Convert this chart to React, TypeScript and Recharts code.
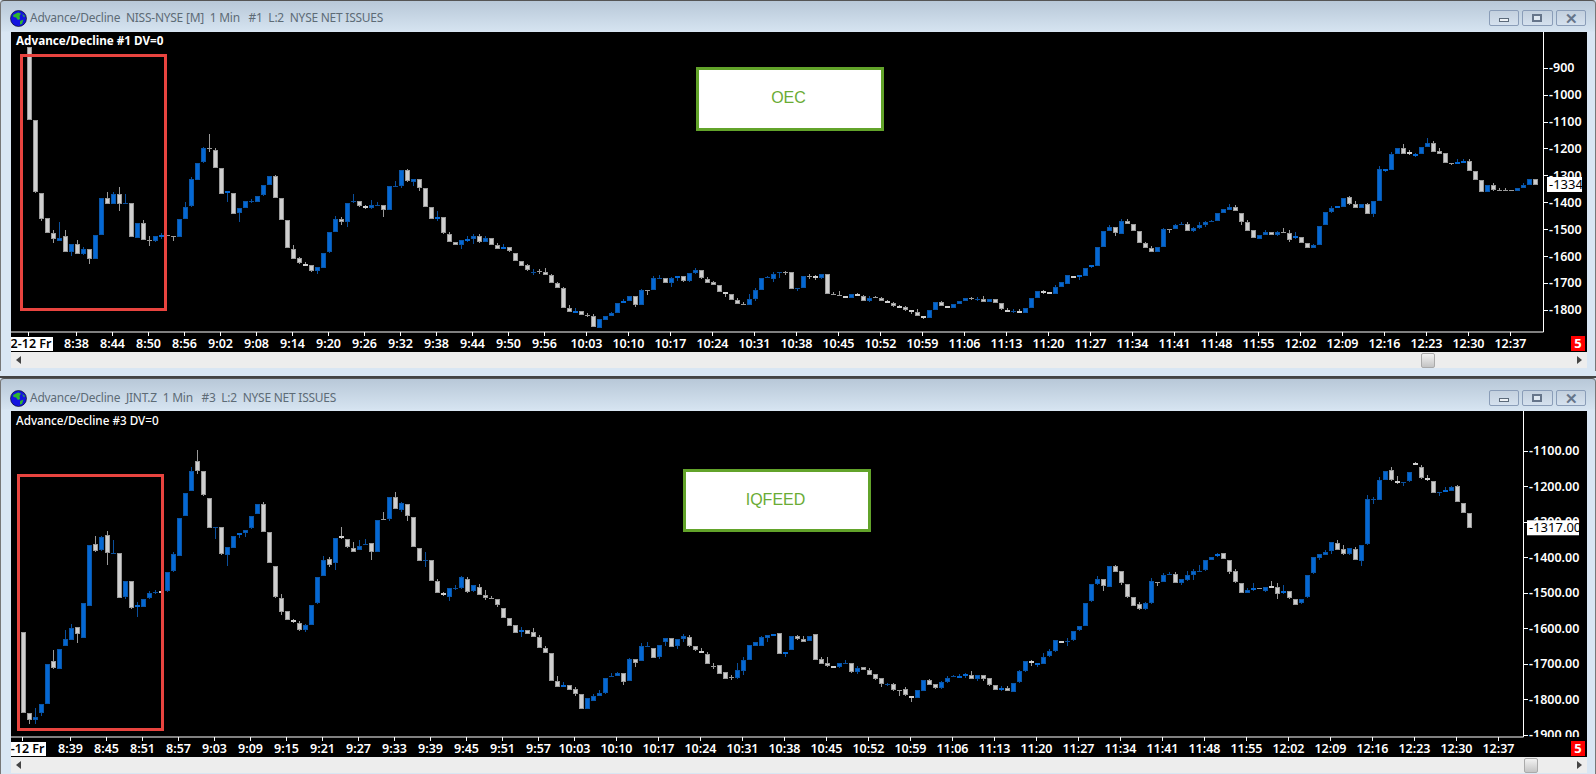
import React from 'react';
import { ComposedChart, Bar, XAxis, YAxis } from 'recharts';

const topOpen = [
-823,-1095,-1364,-1459,-1514,-1542,-1525,-1585,-1554,-1593,
-1573,-1612,-1523,-1385,-1408,-1370,-1405,-1404,-1530,-1476,
-1540,-1544,-1530,-1522,-1525,-1530,-1462,-1416,-1315,-1253,
-1200,-1204,-1272,-1367,-1364,-1441,-1422,-1399,-1397,-1375,
-1337,-1304,-1385,-1466,-1573,-1609,-1628,-1635,-1658,-1642,
-1587,-1511,-1462,-1475,-1401,-1397,-1415,-1424,-1412,-1411,
-1429,-1342,-1342,-1281,-1323,-1312,-1346,-1418,-1464,-1456,
-1517,-1547,-1559,-1542,-1535,-1525,-1547,-1533,-1558,-1573,
-1566,-1587,-1618,-1635,
-1660,-1657,-1661,-1670,-1700,-1719,-1794,-1809,-1805,-1818,
-1824,-1865,-1839,-1824,-1813,-1775,-1769,-1750,-1784,-1726,
-1728,-1683,-1682,-1702,-1684,-1675,-1695,-1665,-1653,-1684,
-1697,-1708,-1735,-1741,-1763,-1779,-1783,-1760,-1728,-1683,
-1683,-1663,-1661,-1660,-1724,-1720,-1676,-1675,-1684,-1668,
-1740,-1745,-1749,-1757,-1741,-1749,-1768,-1753,-1756,-1767,
-1774,-1784,-1790,-1801,-1809,-1823,-1831,-1801,-1771,-1785,
-1794,-1778,-1768,-1756,-1762,-1760,-1772,-1760,-1775,-1800,
-1806,-1804,-1812,-1794,-1757,-1730,-1734,-1739,
-1716,-1704,-1673,-1679,-1675,-1644,-1638,-1567,-1507,-1491,
-1515,-1469,-1480,-1506,-1552,-1571,-1586,-1567,-1498,-1500,
-1483,-1481,-1507,-1496,-1485,-1474,-1470,-1441,-1426,-1417,
-1439,-1472,-1503,-1534,-1522,-1512,-1522,-1510,-1514,-1535,
-1529,-1551,-1568,-1560,-1486,-1437,-1422,-1416,-1382,-1406,
-1422,-1405,-1442,-1396,-1281,-1278,-1221,-1197,-1215,-1226,
-1221,-1195,-1178,-1208,-1216,-1253,-1255,-1251,-1246,-1283,
-1317,-1360,-1335,-1353,-1354,-1356,-1360,-1348,-1337,-1313];

const topClose = [
-1095,-1364,-1462,-1515,-1537,-1532,-1585,-1554,-1593,-1573,
-1612,-1521,-1385,-1408,-1369,-1408,-1403,-1530,-1476,-1540,
-1541,-1527,-1521,-1525,-1530,-1462,-1416,-1315,-1253,-1200,
-1204,-1271,-1367,-1360,-1441,-1422,-1396,-1395,-1375,-1337,
-1304,-1385,-1466,-1569,-1609,-1629,-1635,-1658,-1642,-1587,
-1511,-1462,-1475,-1404,-1396,-1416,-1424,-1412,-1410,-1429,
-1341,-1340,-1281,-1323,-1313,-1346,-1418,-1464,-1456,-1517,
-1547,-1559,-1540,-1535,-1525,-1547,-1533,-1558,-1573,-1565,
-1581,-1618,-1636,-1654,
-1658,-1659,-1672,-1701,-1719,-1794,-1809,-1803,-1820,-1821,
-1865,-1833,-1823,-1811,-1774,-1767,-1749,-1783,-1727,-1728,
-1682,-1681,-1702,-1682,-1675,-1695,-1664,-1653,-1684,-1700,
-1709,-1735,-1741,-1765,-1779,-1783,-1760,-1727,-1682,-1678,
-1665,-1661,-1662,-1724,-1719,-1675,-1677,-1684,-1668,-1742,
-1745,-1750,-1757,-1741,-1750,-1768,-1756,-1755,-1768,-1776,
-1787,-1790,-1801,-1809,-1823,-1831,-1801,-1772,-1785,-1794,
-1778,-1768,-1757,-1759,-1760,-1772,-1760,-1775,-1798,-1807,
-1804,-1812,-1794,-1756,-1730,-1738,-1740,-1714,
-1696,-1672,-1682,-1671,-1644,-1635,-1566,-1506,-1491,-1515,
-1468,-1482,-1507,-1552,-1571,-1586,-1566,-1499,-1500,-1484,
-1481,-1507,-1495,-1484,-1473,-1469,-1439,-1425,-1416,-1433,
-1474,-1504,-1534,-1520,-1512,-1522,-1510,-1514,-1540,-1527,
-1552,-1568,-1558,-1488,-1436,-1421,-1413,-1384,-1408,-1422,
-1406,-1441,-1395,-1276,-1275,-1220,-1198,-1218,-1221,-1220,
-1194,-1179,-1210,-1218,-1255,-1255,-1249,-1245,-1285,-1318,
-1363,-1335,-1354,-1356,-1358,-1359,-1347,-1335,-1313,-1334];

const topHigh = [
-823,-1095,-1364,-1459,-1503,-1475,-1502,-1554,-1542,-1566,
-1573,-1521,-1385,-1362,-1362,-1344,-1370,-1404,-1476,-1466,
-1527,-1527,-1514,-1520,-1525,-1462,-1399,-1307,-1253,-1193,
-1148,-1197,-1272,-1360,-1364,-1422,-1396,-1388,-1375,-1337,
-1304,-1297,-1385,-1466,-1558,-1602,-1623,-1635,-1642,-1587,
-1511,-1451,-1454,-1404,-1368,-1397,-1410,-1391,-1399,-1411,
-1341,-1321,-1279,-1275,-1313,-1312,-1346,-1418,-1433,-1456,
-1511,-1547,-1540,-1527,-1517,-1519,-1527,-1533,-1552,-1554,
-1566,-1587,-1618,-1628,
-1647,-1649,-1644,-1665,-1696,-1714,-1782,-1793,-1805,-1811,
-1817,-1833,-1823,-1807,-1774,-1760,-1749,-1750,-1722,-1726,
-1674,-1670,-1682,-1678,-1675,-1675,-1664,-1644,-1653,-1678,
-1692,-1708,-1735,-1741,-1756,-1772,-1741,-1719,-1682,-1676,
-1659,-1661,-1655,-1660,-1719,-1675,-1668,-1670,-1668,-1668,
-1734,-1730,-1749,-1741,-1737,-1745,-1747,-1747,-1751,-1763,
-1771,-1781,-1785,-1801,-1796,-1823,-1801,-1772,-1766,-1785,
-1778,-1768,-1757,-1751,-1753,-1747,-1760,-1760,-1775,-1795,
-1796,-1796,-1794,-1756,-1730,-1725,-1734,-1707,
-1696,-1672,-1673,-1671,-1644,-1635,-1566,-1506,-1486,-1491,
-1462,-1462,-1480,-1506,-1546,-1561,-1566,-1494,-1498,-1480,
-1474,-1473,-1493,-1474,-1468,-1465,-1439,-1425,-1408,-1412,
-1439,-1466,-1503,-1520,-1503,-1512,-1508,-1495,-1503,-1509,
-1529,-1551,-1555,-1488,-1436,-1414,-1413,-1384,-1378,-1397,
-1406,-1401,-1395,-1265,-1275,-1213,-1198,-1182,-1205,-1218,
-1194,-1162,-1174,-1198,-1216,-1253,-1241,-1241,-1239,-1283,
-1317,-1335,-1329,-1346,-1346,-1353,-1347,-1328,-1313,-1313];

const topLow = [
-1095,-1364,-1468,-1515,-1552,-1545,-1585,-1600,-1593,-1595,
-1630,-1612,-1523,-1408,-1408,-1432,-1405,-1530,-1530,-1540,
-1564,-1549,-1536,-1525,-1545,-1530,-1462,-1416,-1315,-1253,
-1214,-1271,-1367,-1399,-1445,-1472,-1422,-1402,-1397,-1375,
-1337,-1385,-1466,-1569,-1609,-1629,-1635,-1658,-1667,-1646,
-1587,-1511,-1483,-1491,-1401,-1416,-1427,-1424,-1412,-1454,
-1429,-1342,-1346,-1323,-1340,-1358,-1418,-1464,-1469,-1517,
-1547,-1559,-1574,-1547,-1554,-1552,-1547,-1558,-1573,-1573,
-1585,-1618,-1636,-1654,
-1670,-1668,-1672,-1701,-1719,-1794,-1809,-1809,-1820,-1827,
-1865,-1865,-1839,-1824,-1813,-1775,-1769,-1791,-1783,-1744,
-1728,-1683,-1702,-1714,-1692,-1695,-1697,-1665,-1684,-1702,
-1709,-1735,-1751,-1765,-1779,-1783,-1783,-1768,-1728,-1683,
-1695,-1680,-1669,-1724,-1729,-1720,-1687,-1689,-1684,-1742,
-1745,-1750,-1757,-1757,-1750,-1768,-1772,-1757,-1768,-1776,
-1790,-1795,-1805,-1817,-1823,-1836,-1831,-1801,-1785,-1794,
-1794,-1778,-1768,-1762,-1766,-1772,-1772,-1775,-1801,-1807,
-1812,-1812,-1812,-1794,-1757,-1741,-1740,-1739,
-1716,-1704,-1682,-1691,-1675,-1644,-1638,-1567,-1507,-1526,
-1515,-1482,-1507,-1552,-1571,-1586,-1586,-1567,-1515,-1500,
-1486,-1507,-1512,-1498,-1493,-1474,-1470,-1441,-1426,-1433,
-1483,-1504,-1534,-1534,-1522,-1522,-1527,-1514,-1548,-1535,
-1552,-1568,-1568,-1560,-1486,-1441,-1422,-1418,-1412,-1422,
-1422,-1441,-1455,-1396,-1286,-1278,-1221,-1218,-1225,-1233,
-1221,-1195,-1210,-1218,-1255,-1262,-1255,-1251,-1285,-1318,
-1363,-1360,-1360,-1356,-1358,-1359,-1360,-1348,-1337,-1334];

const botOpen = [
-1612,-1838,-1857,-1838,-1812,-1693,-1714,-1649,-1631,-1596,
-1627,-1536,-1364,-1382,-1337,-1391,-1389,-1512,-1468,-1542,
-1539,-1517,-1499,-1496,-1497,-1441,-1396,-1283,-1213,-1129,
-1158,-1232,-1318,-1316,-1393,-1373,-1340,-1331,-1320,-1279,
-1249,-1330,-1426,-1516,-1552,-1578,-1586,-1607,-1592,-1531,
-1454,-1406,-1418,-1341,-1350,-1373,-1379,-1363,-1361,-1385,
-1291,-1292,-1229,-1265,-1249,-1288,-1373,-1410,-1409,-1468,
-1502,-1511,-1488,-1489,-1460,-1497,-1483,-1506,-1516,-1517,
-1544,-1570,-1590,-1613,-1606,-1611,-1625,-1656,-1670,-1749,
-1766,-1760,-1772,-1786,-1829,-1804,-1792,-1784,-1736,-1736,
-1727,-1750,-1687,-1693,-1652,-1656,-1682,-1640,-1628,-1652,
-1631,-1625,-1651,-1664,-1673,-1706,-1704,-1724,-1738,-1742,
-1722,-1688,-1649,-1649,-1629,-1621,-1614,-1674,-1662,-1623,
-1629,-1635,-1617,-1687,-1699,-1706,-1711,-1699,-1699,-1725,
-1710,-1718,-1730,-1741,-1760,-1758,-1775,-1772,-1791,-1798,
-1776,-1746,-1758,-1770,-1753,-1737,-1741,-1737,-1732,-1744,
-1732,-1741,-1760,-1776,-1769,-1778,-1753,-1722,-1693,-1704,
-1702,-1680,-1666,-1635,-1639,-1635,-1607,-1595,-1525,-1477,
-1462,-1484,-1425,-1440,-1476,-1511,-1533,-1546,-1531,-1469,
-1470,-1448,-1446,-1472,-1466,-1452,-1440,-1438,-1407,-1398,
-1389,-1409,-1440,-1472,-1501,-1494,-1488,-1493,-1480,-1485,
-1503,-1496,-1517,-1531,-1514,-1446,-1402,-1393,-1384,-1361,
-1378,-1391,-1377,-1409,-1365,-1240,-1237,-1182,-1155,-1184,
-1193,-1187,-1135,-1147,-1178,-1185,-1219,-1216,-1213,-1200,
-1246,-1276];

const botClose = [
-1840,-1859,-1849,-1814,-1700,-1714,-1659,-1629,-1598,-1615,
-1528,-1365,-1385,-1344,-1387,-1389,-1515,-1468,-1545,-1536,
-1517,-1502,-1497,-1503,-1443,-1392,-1290,-1218,-1156,-1158,
-1227,-1316,-1316,-1393,-1370,-1339,-1333,-1322,-1285,-1250,
-1327,-1416,-1514,-1556,-1578,-1584,-1607,-1592,-1536,-1457,
-1409,-1422,-1347,-1348,-1373,-1383,-1367,-1362,-1386,-1295,
-1293,-1229,-1262,-1246,-1283,-1372,-1409,-1408,-1468,-1502,
-1508,-1486,-1486,-1457,-1497,-1479,-1506,-1515,-1517,-1534,
-1572,-1592,-1613,-1606,-1616,-1626,-1657,-1671,-1750,-1767,
-1760,-1773,-1787,-1829,-1797,-1791,-1783,-1741,-1735,-1727,
-1753,-1687,-1697,-1651,-1651,-1683,-1648,-1628,-1652,-1631,
-1622,-1649,-1663,-1671,-1700,-1707,-1730,-1744,-1739,-1719,
-1690,-1646,-1638,-1625,-1620,-1615,-1674,-1668,-1623,-1632,
-1638,-1621,-1690,-1700,-1708,-1711,-1699,-1698,-1725,-1713,
-1719,-1732,-1745,-1759,-1758,-1776,-1777,-1790,-1798,-1775,
-1746,-1759,-1770,-1752,-1741,-1736,-1734,-1730,-1744,-1732,
-1742,-1761,-1773,-1769,-1778,-1753,-1721,-1693,-1700,-1698,
-1682,-1665,-1634,-1642,-1637,-1609,-1595,-1530,-1476,-1462,
-1483,-1426,-1441,-1475,-1514,-1536,-1548,-1530,-1468,-1471,
-1451,-1446,-1471,-1462,-1451,-1440,-1439,-1409,-1398,-1391,
-1405,-1442,-1472,-1500,-1493,-1488,-1490,-1483,-1485,-1505,
-1496,-1517,-1534,-1519,-1451,-1400,-1391,-1385,-1358,-1380,
-1393,-1375,-1407,-1365,-1237,-1236,-1182,-1158,-1184,-1190,
-1189,-1161,-1141,-1179,-1185,-1218,-1215,-1211,-1203,-1244,
-1275,-1317];

const botHigh = [
-1612,-1838,-1825,-1814,-1700,-1662,-1659,-1606,-1589,-1596,
-1528,-1365,-1339,-1340,-1327,-1352,-1389,-1466,-1468,-1526,
-1517,-1494,-1491,-1496,-1443,-1384,-1290,-1218,-1146,-1099,
-1158,-1232,-1316,-1316,-1370,-1339,-1333,-1322,-1285,-1250,
-1243,-1330,-1426,-1505,-1552,-1573,-1581,-1587,-1536,-1457,
-1397,-1400,-1347,-1315,-1350,-1357,-1351,-1348,-1361,-1295,
-1273,-1229,-1215,-1244,-1249,-1288,-1373,-1385,-1409,-1462,
-1497,-1486,-1479,-1453,-1456,-1479,-1476,-1491,-1509,-1517,
-1544,-1570,-1590,-1597,-1606,-1600,-1619,-1650,-1670,-1734,
-1751,-1760,-1765,-1786,-1797,-1786,-1775,-1739,-1727,-1723,
-1727,-1684,-1687,-1642,-1638,-1656,-1648,-1628,-1628,-1631,
-1616,-1619,-1651,-1656,-1668,-1699,-1704,-1724,-1731,-1698,
-1680,-1646,-1638,-1621,-1620,-1615,-1614,-1668,-1623,-1618,
-1622,-1621,-1617,-1682,-1680,-1706,-1699,-1689,-1699,-1706,
-1710,-1713,-1730,-1741,-1754,-1755,-1775,-1765,-1791,-1775,
-1746,-1744,-1758,-1750,-1736,-1731,-1729,-1727,-1720,-1732,
-1732,-1741,-1760,-1762,-1762,-1753,-1719,-1693,-1690,-1698,
-1670,-1658,-1634,-1635,-1628,-1609,-1595,-1530,-1476,-1453,
-1462,-1426,-1421,-1440,-1476,-1511,-1527,-1527,-1459,-1469,
-1445,-1442,-1441,-1462,-1439,-1434,-1422,-1409,-1398,-1387,
-1389,-1409,-1434,-1472,-1486,-1472,-1486,-1483,-1468,-1473,
-1478,-1496,-1517,-1519,-1451,-1400,-1391,-1380,-1358,-1352,
-1366,-1375,-1372,-1365,-1226,-1230,-1175,-1158,-1147,-1170,
-1189,-1161,-1132,-1139,-1167,-1185,-1215,-1203,-1199,-1197,
-1246,-1276];

const botLow = [
-1840,-1871,-1871,-1846,-1812,-1714,-1714,-1649,-1631,-1641,
-1627,-1536,-1385,-1382,-1421,-1391,-1515,-1517,-1545,-1568,
-1539,-1517,-1504,-1524,-1497,-1441,-1396,-1283,-1213,-1165,
-1227,-1316,-1348,-1393,-1425,-1373,-1345,-1343,-1320,-1279,
-1327,-1416,-1514,-1562,-1578,-1584,-1607,-1610,-1592,-1531,
-1454,-1428,-1435,-1348,-1373,-1383,-1379,-1363,-1407,-1385,
-1293,-1297,-1262,-1273,-1297,-1372,-1409,-1427,-1468,-1502,
-1508,-1522,-1492,-1489,-1501,-1497,-1506,-1521,-1517,-1541,
-1572,-1592,-1613,-1625,-1616,-1626,-1657,-1671,-1750,-1767,
-1766,-1773,-1790,-1829,-1829,-1804,-1792,-1784,-1738,-1736,
-1759,-1750,-1708,-1693,-1654,-1683,-1686,-1650,-1652,-1658,
-1640,-1654,-1663,-1671,-1700,-1714,-1730,-1744,-1745,-1742,
-1731,-1688,-1649,-1649,-1640,-1621,-1674,-1680,-1662,-1632,
-1638,-1635,-1690,-1700,-1708,-1711,-1711,-1700,-1725,-1728,
-1719,-1732,-1745,-1765,-1764,-1778,-1790,-1790,-1807,-1798,
-1776,-1759,-1772,-1770,-1753,-1737,-1741,-1741,-1744,-1748,
-1748,-1763,-1773,-1776,-1778,-1778,-1753,-1722,-1706,-1708,
-1702,-1680,-1666,-1642,-1650,-1635,-1607,-1595,-1525,-1477,
-1495,-1484,-1441,-1477,-1514,-1536,-1548,-1549,-1531,-1481,
-1470,-1450,-1471,-1478,-1466,-1463,-1440,-1438,-1407,-1398,
-1405,-1448,-1472,-1500,-1501,-1494,-1490,-1497,-1485,-1518,
-1503,-1517,-1534,-1531,-1514,-1446,-1408,-1393,-1390,-1380,
-1393,-1394,-1407,-1424,-1365,-1249,-1237,-1182,-1184,-1193,
-1199,-1187,-1141,-1179,-1185,-1218,-1228,-1216,-1213,-1244,
-1275,-1319];

const topTickIndex = [0, 8, 14, 20, 26, 32, 38, 44, 50, 56, 62, 68, 74, 80, 86, 93, 100, 107, 114, 121, 128, 135, 142, 149, 156, 163, 170, 177, 184, 191, 198, 205, 212, 219, 226, 233, 240, 247];
const topTickLabels = ['2-12 Fr', '8:38', '8:44', '8:50', '8:56', '9:02', '9:08', '9:14', '9:20', '9:26', '9:32', '9:38', '9:44', '9:50', '9:56', '10:03', '10:10', '10:17', '10:24', '10:31', '10:38', '10:45', '10:52', '10:59', '11:06', '11:13', '11:20', '11:27', '11:34', '11:41', '11:48', '11:55', '12:02', '12:09', '12:16', '12:23', '12:30', '12:37'];
const botTickIndex = [0, 8, 14, 20, 26, 32, 38, 44, 50, 56, 62, 68, 74, 80, 86, 92, 99, 106, 113, 120, 127, 134, 141, 148, 155, 162, 169, 176, 183, 190, 197, 204, 211, 218, 225, 232, 239, 246];
const botTickLabels = ['2-12 Fr', '8:39', '8:45', '8:51', '8:57', '9:03', '9:09', '9:15', '9:21', '9:27', '9:33', '9:39', '9:45', '9:51', '9:57', '10:03', '10:10', '10:17', '10:24', '10:31', '10:38', '10:45', '10:52', '10:59', '11:06', '11:13', '11:20', '11:27', '11:34', '11:41', '11:48', '11:55', '12:02', '12:09', '12:16', '12:23', '12:30', '12:37'];

const topPriceTicks = [-900, -1000, -1100, -1200, -1300, -1400, -1500, -1600, -1700, -1800];
const botPriceTicks = [-1100, -1200, -1300, -1400, -1500, -1600, -1700, -1800, -1900];
const topLast = -1334;
const botLast = -1317;

const BOT_ROWS = 250;
const FONT = '"Noto Sans", sans-serif';
const UP = '#0468d4';
const UP_EDGE = '#0a56a8';
const UP_WICK = '#0a4f9c';
const DOWN = '#cfcfcf';
const DOWN_EDGE = '#9a9a9a';

const makeRows = (o: number[], h: number[], l: number[], c: number[], n: number) =>
  Array.from({ length: n }, (_, i) =>
    i < o.length ? { i, o: o[i], h: h[i], l: l[i], c: c[i], range: [l[i], h[i]] } : { i, range: null as any }
  );

const topRows = makeRows(topOpen, topHigh, topLow, topClose, topOpen.length);
const botRows = makeRows(botOpen, botHigh, botLow, botClose, BOT_ROWS);

const Candle = (props: any) => {
  const { x, y, width, height, payload } = props;
  if (payload == null || payload.o == null || !Number.isFinite(y)) return null;
  const { o, h, l, c } = payload;
  const ppu = height / Math.max(h - l, 1);
  const cx = Math.floor(x + width / 2);
  const bodyTop = y + (h - Math.max(o, c)) * ppu;
  const bodyH = Math.max(Math.abs(o - c) * ppu, 1);
  const up = c >= o;
  const wick = up ? UP_WICK : DOWN_EDGE;
  const yTop = Math.round(bodyTop);
  const hh = Math.max(Math.round(bodyH), 1);
  return (
    <g shapeRendering="crispEdges">
      <rect x={cx} y={y} width={1} height={Math.max(height, 1)} fill={wick} />
      {hh <= 1 ? (
        <rect x={cx - 2} y={yTop} width={5} height={1} fill={wick} />
      ) : (
        <rect x={cx - 2} y={yTop} width={5} height={hh} fill={up ? UP : DOWN} />
      )}
      {hh > 2 ? (
        <rect x={cx - 1.5} y={yTop + 0.5} width={4} height={hh - 1} fill="none" stroke={up ? UP_EDGE : DOWN_EDGE} strokeWidth={1} />
      ) : null}
    </g>
  );
};

const TimeTick = (props: any) => {
  const { x, y, payload, labels, indexes, stampX, stampW } = props;
  const k = indexes.indexOf(payload.value);
  const label = labels[k];
  const cx = Math.floor(x);
  if (k === 0) {
    return (
      <g>
        <rect x={cx} y={y} width={1} height={4} fill="#fff" />
        <rect x={0} y={y + 5} width={stampW} height={14} fill="#fff" />
        <text x={stampX} y={y + 16} textAnchor="middle" fontFamily={FONT} fontSize={12.5} fontWeight={600} fill="#000">{label}</text>
      </g>
    );
  }
  return (
    <g>
      <rect x={cx} y={y} width={1} height={4} fill="#fff" />
      <text x={cx + 0.5} y={y + 16} textAnchor="middle" fontFamily={FONT} fontSize={12.5} fontWeight={600} fill="#fff">{label}</text>
    </g>
  );
};

const PriceTick = (props: any) => {
  const { x, y, payload, last, decimals, boxW, plotBottom } = props;
  const v: number = payload.value;
  const text = v.toFixed(decimals);
  const bx = Math.round(x);
  if (v === last) {
    return (
      <g>
        <rect x={bx + 3} y={y - 7.5} width={boxW} height={15} fill="#fff" />
        <text x={bx + 5} y={y + 4.5} fontFamily={FONT} fontSize={13} fill="#000">{text}</text>
      </g>
    );
  }
  return (
    <g>
      <rect x={bx} y={Math.round(y)} width={4} height={1} fill="#fff" />
      <svg x={bx} y={0} width={70} height={plotBottom} overflow="hidden">
        <text x={5} y={y + 4.5} fontFamily={FONT} fontSize={12.5} fontWeight={600} fill="#fff">{text}</text>
      </svg>
    </g>
  );
};

type PaneProps = {
  left: number; top: number; width: number; height: number; axisW: number;
  rows: any[]; tickIndex: number[]; tickLabels: string[]; priceTicks: number[]; last: number;
  decimals: number; domain: [number, number]; padL: number; padR: number; stampX: number; stampW: number; boxW: number;
};

const Pane = ({ left, top, width, height, axisW, rows, tickIndex, tickLabels, priceTicks, last, decimals, domain, padL, padR, stampX, stampW, boxW }: PaneProps) => (
  <div style={{ position: 'absolute', left, top, width, height, background: '#000' }}>
    <ComposedChart width={width} height={height} data={rows} margin={{ top: 0, right: 0, bottom: 0, left: 0 }} barCategoryGap={0}>
      <XAxis
        dataKey="i"
        ticks={tickIndex}
        interval={0}
        height={20}
        tickSize={0}
        tickMargin={0}
        tickLine={false}
        padding={{ left: padL, right: padR }}
        axisLine={{ stroke: '#fff', strokeWidth: 1 }}
        tick={<TimeTick labels={tickLabels} indexes={tickIndex} stampX={stampX} stampW={stampW} />}
      />
      <YAxis
        orientation="right"
        type="number"
        width={axisW}
        domain={domain}
        allowDataOverflow
        ticks={[...priceTicks, last]}
        interval={0}
        tickSize={0}
        tickMargin={0}
        tickLine={false}
        axisLine={{ stroke: '#fff', strokeWidth: 1 }}
        tick={<PriceTick last={last} decimals={decimals} boxW={boxW} plotBottom={height - 20} />}
      />
      <Bar dataKey="range" barSize={5} isAnimationActive={false} shape={<Candle />} />
    </ComposedChart>
  </div>
);

const Globe = ({ x, y }: { x: number; y: number }) => (
  <svg style={{ position: 'absolute', left: x, top: y }} width={17} height={17} viewBox="0 0 17 17">
    <circle cx={8.5} cy={8.5} r={8} fill="#1414e0" stroke="#000" strokeWidth={0.6} />
    <path d="M3 5 L8 2.5 L11 3.5 L9.5 6 L10 9 L8 10 L6 7.5 L3.5 7 Z M10 11 L13.5 9.5 L12 14 L10 14.5 Z M12 4 L15 6 L14 7.5 Z" fill="#2fb52f" />
  </svg>
);

const WinButton = ({ x, y, w, kind }: { x: number; y: number; w: number; kind: 'min' | 'max' | 'close' }) => (
  <div style={{ position: 'absolute', left: x, top: y, width: w, height: 16, boxSizing: 'border-box', border: '1px solid #8a9db8', borderRadius: 2, background: 'linear-gradient(#c3d0de,#d5e1ee)' }}>
    {kind === 'min' && <div style={{ position: 'absolute', left: 9, top: 7, width: 10, height: 4, boxSizing: 'border-box', background: '#eef2f6', border: '1px solid #5c6a7a' }} />}
    {kind === 'max' && <div style={{ position: 'absolute', left: 9, top: 3, width: 10, height: 8, boxSizing: 'border-box', border: '2px solid #66758a', background: '#dfe8f1' }} />}
    {kind === 'close' && <div style={{ position: 'absolute', left: 0, top: -2, width: '100%', textAlign: 'center', fontFamily: FONT, fontSize: 15, fontWeight: 700, color: '#66758a', lineHeight: '18px' }}>✕</div>}
  </div>
);

const Frame = ({ top, height, titleY, title, btnY }: { top: number; height: number; titleY: number; title: string; btnY: number }) => (
  <div>
    <div style={{ position: 'absolute', left: 0, top, width: 1596, height, boxSizing: 'border-box', borderTop: '1px solid #555', borderLeft: '1px solid #777', borderRight: '1px solid #777', borderRadius: '4px 4px 0 0', background: 'linear-gradient(#b8c8d8 0, #d5e3f0 30px, #d9e6f3 31px)' }} />
    <Globe x={10} y={titleY - 8} />
    <div style={{ position: 'absolute', left: 30, top: titleY - 9, fontFamily: FONT, fontSize: 11.95, letterSpacing: -0.22, lineHeight: '18px', color: '#5d6b76', whiteSpace: 'pre' }}>{title}</div>
    <WinButton x={1489} y={btnY} w={30} kind="min" />
    <WinButton x={1522} y={btnY} w={31} kind="max" />
    <WinButton x={1556} y={btnY} w={30} kind="close" />
  </div>
);

const ScrollBar = ({ top, thumbX }: { top: number; thumbX: number }) => (
  <div style={{ position: 'absolute', left: 11, top, width: 1576, height: 16, background: '#ededed' }}>
    <div style={{ position: 'absolute', left: 5, top: 4, width: 0, height: 0, borderTop: '4px solid transparent', borderBottom: '4px solid transparent', borderRight: '5px solid #444' }} />
    <div style={{ position: 'absolute', left: 1566, top: 4, width: 0, height: 0, borderTop: '4px solid transparent', borderBottom: '4px solid transparent', borderLeft: '5px solid #444' }} />
    <div style={{ position: 'absolute', left: thumbX - 11, top: 1, width: 14, height: 15, boxSizing: 'border-box', border: '1px solid #aaa', borderRadius: 2, background: 'linear-gradient(#f2f2f2,#c4c4c4)' }} />
  </div>
);

const Overlay = ({ x, y, w, h, color, bw, bg, children }: any) => (
  <div style={{ position: 'absolute', left: x, top: y, width: w, height: h, boxSizing: 'border-box', border: `${bw}px solid ${color}`, background: bg, display: 'flex', alignItems: 'center', justifyContent: 'center', paddingRight: 3, paddingBottom: 2, fontFamily: '"Liberation Sans", Arial, sans-serif', fontSize: 16, color: '#6aac35' }}>{children}</div>
);

const RedFive = ({ y }: { y: number }) => (
  <div style={{ position: 'absolute', left: 1571, top: y, width: 14, height: 15, background: '#f00', color: '#fff', fontFamily: FONT, fontSize: 13, fontWeight: 700, lineHeight: '15px', textAlign: 'center' }}>5</div>
);

const ChartLabel = ({ y, text, weight }: { y: number; text: string; weight: number }) => (
  <div style={{ position: 'absolute', left: 16, top: y - 9, lineHeight: '18px', color: '#fff', fontFamily: FONT, fontSize: 11.7, fontWeight: weight, whiteSpace: 'pre' }}>{text}</div>
);

export default function App() {
  return (
    <div style={{ position: 'absolute', left: 0, top: 0, width: 1596, height: 774, overflow: 'hidden', background: '#d9e6f3' }}>
      <Frame top={0} height={371} titleY={18} btnY={10} title={'Advance/Decline  NISS-NYSE [M]  1 Min   #1  L:2  NYSE NET ISSUES'} />
      <div style={{ position: 'absolute', left: 0, top: 371, width: 1596, height: 7, background: '#d9e6f3', borderBottom: '2px solid #444', boxSizing: 'border-box' }} />
      <Pane left={11} top={32} width={1576} height={320} axisW={43.5} rows={topRows} tickIndex={topTickIndex} tickLabels={topTickLabels} priceTicks={topPriceTicks} last={topLast} decimals={0} domain={[-1882.5, -767]} padL={14.7} padR={5.8} stampX={20} stampW={42} boxW={35} />
      <ChartLabel y={40} text="Advance/Decline #1 DV=0" weight={700} />
      <RedFive y={336} />
      <ScrollBar top={352} thumbX={1421} />

      <Frame top={378} height={396} titleY={398} btnY={390} title={'Advance/Decline  JINT.Z  1 Min   #3  L:2  NYSE NET ISSUES'} />
      <Pane left={11} top={411} width={1576} height={346} axisW={63.5} rows={botRows} tickIndex={botTickIndex} tickLabels={botTickLabels} priceTicks={botPriceTicks} last={botLast} decimals={2} domain={[-1906.5, -988]} padL={8.6} padR={3.6} stampX={13} stampW={35} boxW={52} />
      <ChartLabel y={420} text="Advance/Decline #3 DV=0" weight={500} />
      <RedFive y={741} />
      <ScrollBar top={757} thumbX={1524} />

      <Overlay x={20} y={54} w={147} h={257} color="#e8443f" bw={3} bg="transparent" />
      <Overlay x={17} y={474} w={147} h={257} color="#e8443f" bw={3} bg="transparent" />
      <Overlay x={696} y={67} w={188} h={64} color="#62a32a" bw={3} bg="#fff">OEC</Overlay>
      <Overlay x={683} y={469} w={188} h={63} color="#62a32a" bw={3} bg="#fff">IQFEED</Overlay>
    </div>
  );
}
